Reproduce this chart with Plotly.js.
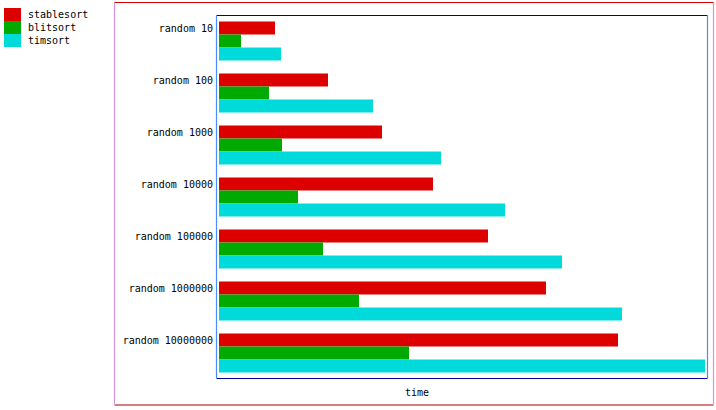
<!DOCTYPE html>
<html>
<head>
<meta charset="utf-8">
<script src="https://cdn.plot.ly/plotly-3.0.1.min.js"></script>
<style>html,body{margin:0;padding:0;background:#fff;}#chart{width:716px;height:410px;}</style>
</head>
<body>
<div id="chart"></div>
<script>
var categories = ["random 10","random 100","random 1000","random 10000","random 100000","random 1000000","random 10000000"];
var seriesNames = ["stablesort","blitsort","timsort"];
var stablesort = [56,109,163,214,269,327,399];
var blitsort = [22,50,63,79,104,140,190];
var timsort = [62,154,222,286,343,403,486];
var seriesColors = ["#dd0000","#00aa00","#00dada"];
var axisTitle = "time";

var W = 716, H = 410;
var mL = 217, mR = 8, mT = 15, mB = 31;
var pw = W - mL - mR, ph = H - mT - mB;
function px(x){ return (x - mL) / pw; }
function py(y){ return (H - mB - y) / ph; }

var values = [stablesort, blitsort, timsort];
var traces = values.map(function(v, i){
  return {type:'bar', orientation:'h', name:seriesNames[i], y:categories, x:v,
    marker:{color:seriesColors[i], line:{width:0}}, showlegend:false, hoverinfo:'none'};
});

var mono = "DejaVu Sans Mono, monospace";
var shapes = [
  // outer frame
  {type:'line', xref:'paper', yref:'paper', x0:px(114.5), x1:px(713.5), y0:py(2.5), y1:py(2.5), line:{color:'#d00000', width:1.2}},
  {type:'line', xref:'paper', yref:'paper', x0:px(114.5), x1:px(713.5), y0:py(405), y1:py(405), line:{color:'#b00000', width:1.2}},
  {type:'line', xref:'paper', yref:'paper', x0:px(114.5), x1:px(114.5), y0:py(3), y1:py(404.5), line:{color:'#d890e8', width:1.2}},
  {type:'line', xref:'paper', yref:'paper', x0:px(713.5), x1:px(713.5), y0:py(3), y1:py(404.5), line:{color:'#d890e8', width:1.2}},
  // inner frame
  {type:'line', xref:'paper', yref:'paper', x0:px(216.5), x1:px(707.5), y0:py(15.5), y1:py(15.5), line:{color:'#0000a0', width:1.2}},
  {type:'line', xref:'paper', yref:'paper', x0:px(216.5), x1:px(707.5), y0:py(378.5), y1:py(378.5), line:{color:'#0000a0', width:1.2}},
  {type:'line', xref:'paper', yref:'paper', x0:px(216.5), x1:px(216.5), y0:py(16), y1:py(378), line:{color:'#4a8cff', width:1.2}},
  {type:'line', xref:'paper', yref:'paper', x0:px(707.5), x1:px(707.5), y0:py(16), y1:py(378), line:{color:'#4a8cff', width:1.2}}
];
var annotations = [
  {xref:'paper', yref:'paper', x:px(417), y:py(392), text:axisTitle, showarrow:false, xanchor:'center', yanchor:'middle', font:{family:mono, size:10, color:'#000'}}
];
seriesNames.forEach(function(n, i){
  var top = 8 + 13*i;
  shapes.push({type:'rect', xref:'paper', yref:'paper', x0:px(4), x1:px(21), y0:py(top), y1:py(top+13), fillcolor:seriesColors[i], line:{width:0}});
  annotations.push({xref:'paper', yref:'paper', x:px(26), y:py(top+6.5), text:n, showarrow:false, xanchor:'left', yanchor:'middle', font:{family:mono, size:10, color:'#000'}});
});

var layout = {
  width:W, height:H, margin:{l:mL, r:mR, t:mT, b:mB, pad:0},
  paper_bgcolor:'#fff', plot_bgcolor:'#fff',
  barmode:'group', bargap:0.25, bargroupgap:0,
  showlegend:false,
  xaxis:{range:[-2,489], showticklabels:false, showgrid:false, zeroline:false, showline:false, ticks:''},
  yaxis:{type:'category', autorange:'reversed', showgrid:false, zeroline:false, showline:false,
    ticks:'outside', ticklen:1, tickcolor:'rgba(0,0,0,0)', ticklabelshift:13,
    tickfont:{family:mono, size:10, color:'#000'}},
  shapes:shapes, annotations:annotations
};
Plotly.newPlot('chart', traces, layout, {staticPlot:true, displayModeBar:false});
</script>
</body>
</html>
